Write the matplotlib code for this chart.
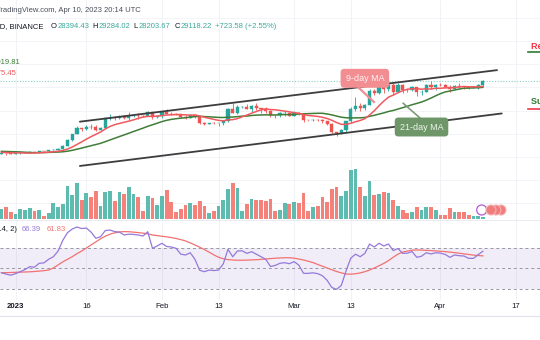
import pandas as pd
import matplotlib.pyplot as plt
import matplotlib.dates as mdates
import matplotlib.transforms as mtransforms
from matplotlib.lines import Line2D
from matplotlib.patches import Ellipse
from matplotlib.text import Annotation

plt.rcParams['font.family'] = ['Liberation Sans', 'DejaVu Sans']

W, H = 540, 340
dates = pd.date_range('2022-12-29', '2023-04-10', freq='D')

# Dec 9 - Dec 28 closes, only needed to warm up the moving averages.
warmup_closes = [17130, 17130, 17090, 17210, 17780, 17810, 17360, 16630, 16780, 16740,
                 16440, 16900, 16820, 16830, 16780, 16840, 16830, 16920, 16700, 16552]

opens = [16552, 16642, 16602, 16542, 16616, 16673, 16675, 16850, 16831, 16951,
         16944, 17127, 17178, 17440, 17943, 18846, 19930, 20954, 20871, 21185,
         21133, 20677, 21072, 22667, 22783, 22707, 22917, 22633, 23056, 23070,
         23030, 23000, 23740, 22830, 23130, 23730, 23490, 23430, 23330, 22930,
         22760, 23250, 22960, 21800, 21630, 21860, 21780, 21790, 22200, 24330,
         23520, 24570, 24630, 24280, 24840, 24450, 24190, 23940, 23180, 23150,
         23550, 23600, 23140, 23630, 23470, 22350, 22340, 22430, 22410, 22200,
         21700, 20360, 20190, 20630, 22140, 24200, 24750, 24380, 25050, 27420,
         26970, 28040, 27770, 28350, 27300, 28476.96, 27490, 27480, 28020, 27140,
         27270, 28350, 28030, 28480, 28450, 28160, 27760, 28170, 28110, 28000,
         27916.19, 27950, 28394.43]
highs = [16660, 16650, 16630, 16630, 16760, 16780, 16990, 16880, 17040, 16990,
         17180, 17400, 17490, 18000, 19100, 19970, 21260, 21000, 21470, 21650,
         21560, 21190, 22750, 23370, 23080, 23170, 23190, 23820, 23290, 23500,
         23180, 23960, 23830, 23320, 23810, 24260, 23720, 23590, 23440, 23160,
         23370, 23450, 22990, 21950, 21900, 22090, 21890, 22320, 24380, 25250,
         24900, 24800, 25120, 25020, 25250, 24470, 24600, 24100, 23220, 23690,
         23890, 23600, 24000, 23780, 23480, 22410, 22610, 22550, 22530, 22270,
         21800, 20370, 20790, 22190, 24550, 26390, 25230, 25170, 27760, 27720,
         28400, 28520, 28470, 28800, 28750, 28520, 27800, 28180, 28050, 27500,
         28650, 29160, 28650, 28800, 28530, 28490, 28440, 28770, 28170, 28100,
         28170, 28530, 29284.02]
lows = [16510, 16330, 16470, 16500, 16550, 16600, 16660, 16750, 16680, 16910,
        16910, 17100, 17140, 17320, 17900, 18700, 19880, 20550, 20600, 20900,
        20400, 20660, 20860, 22340, 22290, 22520, 22470, 22330, 22840, 22530,
        22870, 22980, 22540, 22710, 22760, 23380, 23200, 23250, 22760, 22630,
        22700, 22680, 21690, 21480, 21600, 21630, 21350, 21530, 22050, 23500,
        23340, 24440, 24260, 23840, 24150, 23580, 23620, 22900, 22720, 22950,
        23120, 23030, 23020, 23200, 21970, 22170, 22190, 22260, 21930, 21580,
        20050, 19550, 19900, 20330, 21920, 23980, 23940, 24120, 24890, 26640,
        26850, 27120, 27400, 26640, 27140, 27000, 27200, 27370, 26520, 26630,
        27240, 27720, 27540, 28250, 27860, 27260, 27670, 27830, 27710, 27790,
        27880, 27810, 28203.67]
closes = [16642, 16602, 16542, 16616, 16673, 16675, 16850, 16831, 16951, 16944,
          17127, 17178, 17440, 17943, 18846, 19930, 20954, 20871, 21185, 21133,
          20677, 21072, 22667, 22783, 22707, 22917, 22633, 23056, 23070, 23030,
          23000, 23740, 22830, 23130, 23730, 23490, 23430, 23330, 22930, 22760,
          23250, 22960, 21800, 21630, 21860, 21780, 21790, 22200, 24330, 23520,
          24570, 24630, 24280, 24840, 24450, 24190, 23940, 23180, 23150, 23550,
          23600, 23140, 23630, 23470, 22350, 22340, 22430, 22410, 22200, 21700,
          20360, 20190, 20630, 22140, 24200, 24750, 24380, 25050, 27420, 26970,
          28040, 27770, 28350, 27300, 28476.96, 27490, 27480, 28020, 27140, 27270,
          28350, 28030, 28480, 28450, 28160, 27760, 28170, 28110, 28000, 27916.19,
          27950, 28394.64, 29118.22]
# thousand BTC
volumes = [120, 140, 84, 60, 120, 108, 132, 96, 108, 36,
           72, 192, 144, 180, 396, 288, 432, 228, 312, 264,
           336, 156, 324, 336, 216, 324, 300, 384, 300, 264,
           96, 276, 252, 168, 276, 348, 204, 84, 120, 168,
           192, 168, 216, 156, 72, 96, 156, 228, 360, 432,
           372, 96, 180, 240, 228, 228, 216, 240, 96, 108,
           192, 180, 204, 192, 312, 96, 144, 156, 264, 204,
           360, 384, 276, 336, 588, 600, 384, 276, 456, 288,
           300, 324, 312, 228, 156, 108, 72, 84, 144, 108,
           144, 144, 108, 48, 48, 132, 84, 84, 84, 48,
           36, 36, 24]
rsi = [45.4, 44.0, 43.0, 44.5, 46.4, 48.5, 51.3, 50.8, 54.6, 55.0,
       58.5, 61.0, 66.5, 77.0, 84.5, 88.0, 90.0, 88.5, 89.0, 85.0,
       79.0, 80.5, 86.5, 87.0, 85.5, 85.0, 82.2, 83.0, 82.8, 82.2,
       81.2, 85.4, 69.2, 71.5, 74.1, 71.0, 70.5, 69.2, 63.5, 62.7,
       64.9, 58.5, 47.8, 46.4, 48.0, 47.5, 48.0, 54.0, 68.2, 61.0,
       66.6, 66.8, 64.3, 65.9, 63.5, 61.0, 58.5, 51.5, 52.5, 54.6,
       55.2, 54.2, 56.2, 52.9, 44.8, 44.8, 45.3, 44.5, 42.5, 38.0,
       31.0, 29.2, 33.0, 47.0, 59.5, 63.5, 61.0, 64.3, 73.4, 70.5,
       74.1, 71.5, 73.4, 67.0, 69.0, 64.3, 64.5, 66.0, 60.4, 61.5,
       64.9, 63.7, 64.9, 64.5, 63.3, 60.4, 62.7, 62.0, 61.7, 59.4,
       59.4, 63.0, 66.39]
rsi_ma = [45.4, 45.5, 45.6, 45.8, 46.0, 46.1, 46.3, 46.6, 47.0, 47.4,
          48.0, 50.0, 53.0, 56.0, 58.5, 61.0, 64.0, 66.5, 69.5, 72.5,
          75.5, 78.5, 81.0, 83.0, 84.3, 85.2, 85.5, 85.4, 85.0, 84.5,
          84.0, 83.3, 82.2, 81.6, 81.0, 80.4, 79.7, 78.8, 77.7, 76.4,
          74.5, 72.5, 70.3, 68.0, 65.5, 62.8, 60.5, 59.0, 58.2, 57.8,
          57.6, 57.6, 57.7, 57.9, 58.1, 58.4, 58.8, 59.2, 59.5, 59.8,
          60.0, 60.0, 59.6, 58.8, 57.8, 56.6, 55.3, 53.5, 51.8, 50.0,
          48.3, 46.6, 45.3, 44.1, 44.0, 44.4, 45.2, 46.4, 48.0, 50.0,
          52.2, 54.5, 57.2, 60.5, 63.5, 65.5, 66.5, 67.4, 67.6, 67.5,
          67.2, 67.0, 66.7, 66.3, 66.0, 65.5, 65.0, 64.4, 63.8, 63.2,
          62.6, 62.2, 61.83]

# trend channel drawn on the chart
upper_channel = (['2023-01-14 15:00', '2023-04-13 00:00'], [22080, 31000])
lower_channel = (['2023-01-14 15:00', '2023-04-14 00:00'], [14420, 23500])

tick_dates = ['2023-01-01', '2023-01-16', '2023-02-01', '2023-02-13',
              '2023-03-01', '2023-03-13', '2023-04-01', '2023-04-17']
tick_labels = ['2023', '16', 'Feb', '13', 'Mar', '13', 'Apr', '17']

UP, DOWN = '#26a69a', '#ef5350'
VOL_UP, VOL_DOWN = '#5dbcaf', '#f5817b'
TEXT = '#131722'
VAL = '#3aa99d'

all_closes = pd.Series(warmup_closes + closes)
ma9 = all_closes.rolling(9).mean().iloc[len(warmup_closes):].to_numpy()
ma21 = all_closes.rolling(21).mean().iloc[len(warmup_closes):].to_numpy()

x = mdates.date2num(dates)
jan1 = mdates.date2num(pd.Timestamp('2023-01-01'))
xlim = (jan1 - 3.3, jan1 + 111.1)
is_up = [c >= o for o, c in zip(opens, closes)]
candle_colors = [UP if u else DOWN for u in is_up]
vol_colors = [VOL_UP if u else VOL_DOWN for u in is_up]


def px(xp, yp):
    return xp / W, 1 - yp / H


def when(s):
    return mdates.date2num(pd.Timestamp(s))


fig = plt.figure(figsize=(W / 100, H / 100), dpi=100)
fig.patch.set_facecolor('white')

# price pane (volume sits underneath in its own axes)
pane = [0, 1 - 219 / H, 1, 219 / H]
ax_vol = fig.add_axes(pane)
ax = fig.add_axes(pane)
ax.patch.set_visible(False)
ax_rsi = fig.add_axes([0, 40 / H, 1, 81 / H])

for a in (ax_vol, ax, ax_rsi):
    a.set_xlim(*xlim)
    for s in a.spines.values():
        s.set_visible(False)
    a.set_yticks([])
ax.set_xticks([])
ax_vol.set_xticks([])

ax.set_ylim(5244, 43131)
ax_vol.set_ylim(0, 219 * 12)

tick_x = mdates.date2num(pd.to_datetime(tick_dates))
for t in tick_x:
    ax_vol.axvline(t, color='#eef0f4', lw=0.6, zorder=0)
    ax_rsi.axvline(t, color='#eef0f4', lw=0.6, zorder=0)
price_grid = mtransforms.blended_transform_factory(ax_vol.transAxes, ax.transData)
for p in range(8000, 44000, 4000):
    ax_vol.plot([0, 1], [p, p], transform=price_grid, color='#f0f2f6', lw=0.6, zorder=0)

ax_vol.bar(x, volumes, width=0.8, color=vol_colors, linewidth=0, zorder=2)

# candles
ax.vlines(x, lows, highs, colors=candle_colors, lw=0.6, zorder=3)
body_low = [min(o, c) for o, c in zip(opens, closes)]
body_h = [abs(c - o) for o, c in zip(opens, closes)]
ax.bar(x, body_h, bottom=body_low, width=0.68, color=candle_colors,
       edgecolor=candle_colors, linewidth=0.3, zorder=4)

ax.plot(x, ma21, color='#3f7d38', lw=1.1, zorder=5)
ax.plot(x, ma9, color='#f05a5f', lw=1.1, zorder=5)

for days, prices in (upper_channel, lower_channel):
    ax.plot([when(d) for d in days], prices, color='#3d3d3d', lw=1.3,
            solid_capstyle='round', zorder=6)

ax.axhline(closes[-1], color=UP, lw=0.8, ls=(0, (1, 1.5)), alpha=0.55, zorder=2)

# MA call-outs
ax.plot([when('2023-03-14 18:00'), when('2023-03-17 22:00')], [27907, 25485],
        color='#f28e92', lw=1.6, zorder=7)
ax.text(when('2023-03-16'), 29585, '9-day MA', ha='center', va='center', fontsize=6.5,
        color='#fff1f1', zorder=8,
        bbox=dict(boxstyle='round,pad=0.55,rounding_size=0.4', fc='#f28e92', ec='none'))
ax.plot([when('2023-03-24 03:00'), when('2023-03-28')], [25260, 22490],
        color='#7f9a7a', lw=1.2, zorder=7)
ax.text(when('2023-03-28'), 21160, '21-day MA', ha='center', va='center', fontsize=6.5,
        color='#eef5ec', zorder=8,
        bbox=dict(boxstyle='round,pad=0.55,rounding_size=0.4', fc='#6f9669', ec='none'))

# level labels on the right edge
ax.text(when('2023-04-20 05:00'), 35120, 'Resistance Levels', ha='left', va='center',
        fontsize=6.5, fontweight='bold', color='#f23645', clip_on=True, zorder=8)
ax.plot([when('2023-04-19 15:00'), when('2023-04-30')], [34080, 34080],
        color='#2e7d32', lw=1.2, zorder=8)
ax.text(when('2023-04-20 05:00'), 25520, 'Support Levels', ha='left', va='center',
        fontsize=6.5, fontweight='bold', color='#2e7d32', clip_on=True, zorder=8)
ax.plot([when('2023-04-19 15:00'), when('2023-04-30')], [24220, 24220],
        color='#f23645', lw=1.2, zorder=8)

# RSI pane
ax_rsi.set_ylim(18.8, 97.8)
ax_rsi.axhspan(30, 70, color='#7e57c2', alpha=0.1, lw=0)
for lvl in (70, 50, 30):
    ax_rsi.axhline(lvl, color='#9598a1', lw=0.7, ls=(0, (3, 3)))
ax_rsi.plot(x, rsi_ma, color='#f27171', lw=0.9)
ax_rsi.plot(x, rsi, color='#9479db', lw=0.9)
ax_rsi.set_xticks(tick_x)
ax_rsi.set_xticklabels(tick_labels)
ax_rsi.tick_params(axis='x', length=0, pad=2.5, labelsize=5.6, labelcolor=TEXT)
ax_rsi.get_xticklabels()[0].set_fontweight('bold')

fig.add_artist(Line2D([0, 1], [1 - 219.5 / H] * 2, transform=fig.transFigure,
                      color='#e6e8ee', lw=0.6))
fig.add_artist(Line2D([0, 1], [1 - 316 / H] * 2, transform=fig.transFigure,
                      color='#e0e3eb', lw=0.8))

# header and legends
fs = 5.5
fig.text(*px(141, 10), 'TradingView.com, Apr 10, 2023 20:14 UTC', ha='right', va='center',
         fontsize=fs, color='#4a4e5a')
fig.text(*px(44, 27), 'Bitcoin / TetherUS, 1D, BINANCE', ha='right', va='center',
         fontsize=fs, color=TEXT)
prev_close = closes[-2]
change = closes[-1] - prev_close
for xl, letter, val in ((50.5, 'O', opens[-1]), (92, 'H', highs[-1]),
                        (133.8, 'L', lows[-1]), (174.7, 'C', closes[-1])):
    lab = fig.text(*px(xl, 27), letter, ha='left', va='center', fontsize=fs, color=TEXT)
    # value follows straight after its letter
    fig.add_artist(Annotation(f'{val:.2f}', xy=(1, 0.5), xycoords=lab,
                              xytext=(0.5, 0), textcoords='offset points',
                              ha='left', va='center', fontsize=fs, color=VAL))
fig.text(*px(215, 27), f'{change:+.2f} ({change / prev_close * 100:+.2f}%)', ha='left',
         va='center', fontsize=fs, color=VAL)

fig.text(*px(20, 62.7), f'{ma21[-1]:.2f}', ha='right', va='center', fontsize=fs,
         color='#3f7d38')
fig.text(*px(16.7, 73.3), f'{ma9[-1]:.2f}', ha='right', va='center', fontsize=fs,
         color='#f05a5f')

fig.text(*px(17, 229.3), 'RSI (14, 2)', ha='right', va='center', fontsize=fs, color=TEXT)
fig.text(*px(21.7, 229.3), f'{rsi[-1]:.2f}', ha='left', va='center', fontsize=fs,
         color='#9479db')
fig.text(*px(46.7, 229.3), f'{rsi_ma[-1]:.2f}', ha='left', va='center', fontsize=fs,
         color='#f27171')

# event badges at the last bar
fig.add_artist(Ellipse(px(481.7, 210), 10 / W, 10 / H, transform=fig.transFigure,
                       fc='white', ec='#b35ad8', lw=0.9))
for cx in (501, 496, 491):
    fig.add_artist(Ellipse(px(cx, 210), 10 / W, 10 / H, transform=fig.transFigure,
                           fc='#f07c7c', ec='#f6b3b3', lw=0.8))

fig.savefig('out.png', dpi=100)
